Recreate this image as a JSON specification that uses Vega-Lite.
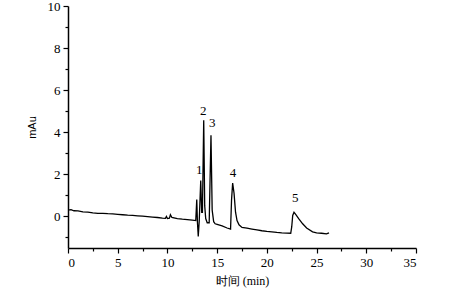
{
  "$schema": "https://vega.github.io/schema/vega-lite/v6.json",
  "width": 348,
  "height": 242,
  "autosize": "none",
  "padding": {"left": 68, "top": 6, "right": 47, "bottom": 47},
  "background": "white",
  "config": {
    "view": {"stroke": null},
    "axis": {"grid": false, "domainColor": "black", "domainWidth": 1.5, "tickColor": "black", "tickWidth": 1.2, "labelColor": "black", "titleColor": "black", "labelFont": "Liberation Serif", "labelFontSize": 13, "titleFontWeight": "normal"}
  },
  "datasets": {
    "trace": [
      {"t": 0, "v": 0.3}, {"t": 0.3, "v": 0.32}, {"t": 0.6, "v": 0.27}, {"t": 1, "v": 0.26},
      {"t": 1.5, "v": 0.22}, {"t": 2, "v": 0.2}, {"t": 2.5, "v": 0.17}, {"t": 3, "v": 0.15},
      {"t": 3.5, "v": 0.15}, {"t": 4, "v": 0.13}, {"t": 4.5, "v": 0.12}, {"t": 5, "v": 0.1},
      {"t": 5.5, "v": 0.08}, {"t": 6, "v": 0.06}, {"t": 6.5, "v": 0.05}, {"t": 7, "v": 0.03},
      {"t": 7.5, "v": 0.01}, {"t": 8, "v": -0.01}, {"t": 8.5, "v": -0.03}, {"t": 9, "v": -0.05},
      {"t": 9.5, "v": -0.08}, {"t": 9.8, "v": -0.09}, {"t": 9.9, "v": 0.0}, {"t": 10.0, "v": -0.1},
      {"t": 10.2, "v": -0.08}, {"t": 10.3, "v": 0.08}, {"t": 10.45, "v": -0.05}, {"t": 11, "v": -0.1},
      {"t": 11.5, "v": -0.13}, {"t": 12, "v": -0.15}, {"t": 12.5, "v": -0.18}, {"t": 12.85, "v": -0.2},
      {"t": 12.95, "v": 0.8}, {"t": 13.02, "v": -0.3}, {"t": 13.1, "v": -0.95}, {"t": 13.2, "v": -0.2},
      {"t": 13.35, "v": 1.71}, {"t": 13.45, "v": 0.2}, {"t": 13.52, "v": 0.2}, {"t": 13.65, "v": 4.57},
      {"t": 13.75, "v": 0.5}, {"t": 13.85, "v": -0.1}, {"t": 14.0, "v": -0.3}, {"t": 14.2, "v": -0.3},
      {"t": 14.38, "v": 3.86}, {"t": 14.5, "v": 0.3}, {"t": 14.65, "v": -0.25}, {"t": 14.8, "v": -0.35},
      {"t": 15, "v": -0.38}, {"t": 15.5, "v": -0.45}, {"t": 16, "v": -0.55}, {"t": 16.35, "v": -0.6},
      {"t": 16.45, "v": 0.8}, {"t": 16.56, "v": 1.59}, {"t": 16.7, "v": 1.1}, {"t": 16.85, "v": 0.2},
      {"t": 17.0, "v": -0.2}, {"t": 17.2, "v": -0.4}, {"t": 17.5, "v": -0.52}, {"t": 18, "v": -0.56},
      {"t": 18.5, "v": -0.6}, {"t": 19, "v": -0.64}, {"t": 19.5, "v": -0.68}, {"t": 20, "v": -0.71},
      {"t": 20.5, "v": -0.73}, {"t": 21, "v": -0.76}, {"t": 21.5, "v": -0.78}, {"t": 22, "v": -0.79},
      {"t": 22.4, "v": -0.8}, {"t": 22.5, "v": -0.5}, {"t": 22.6, "v": 0.05}, {"t": 22.73, "v": 0.2},
      {"t": 22.9, "v": 0.1}, {"t": 23.2, "v": -0.1}, {"t": 23.6, "v": -0.35}, {"t": 24, "v": -0.55},
      {"t": 24.6, "v": -0.73}, {"t": 25, "v": -0.78}, {"t": 25.5, "v": -0.8}, {"t": 26, "v": -0.83},
      {"t": 26.25, "v": -0.78}
    ],
    "labels": [
      {"t": 13.2, "v": 2.2, "label": "1"},
      {"t": 13.6, "v": 5.0, "label": "2"},
      {"t": 14.5, "v": 4.43, "label": "3"},
      {"t": 16.6, "v": 2.05, "label": "4"},
      {"t": 22.85, "v": 0.86, "label": "5"}
    ]
  },
  "resolve": {"axis": {"x": "independent", "y": "independent"}},
  "layer": [
    {
      "data": {"name": "trace"},
      "mark": {"type": "line", "color": "black", "strokeWidth": 1.3, "clip": true},
      "encoding": {
        "x": {"field": "t", "type": "quantitative", "scale": {"domain": [0, 35], "nice": false, "zero": false},
          "axis": {"orient": "bottom", "values": [0, 5, 10, 15, 20, 25, 30, 35], "tickSize": 5, "labelPadding": 3, "title": "时间 (min)", "titleFont": "Liberation Serif", "titleFontSize": 12, "titlePadding": 6}},
        "y": {"field": "v", "type": "quantitative", "scale": {"domain": [-1.5, 10], "nice": false, "zero": false},
          "axis": {"orient": "left", "values": [0, 2, 4, 6, 8, 10], "tickSize": 5, "labelPadding": 3, "title": "mAu", "titleFont": "Liberation Sans", "titleFontSize": 11, "titlePadding": 10}}
      }
    },
    {
      "data": {"name": "labels"},
      "mark": {"type": "text", "font": "Liberation Serif", "fontSize": 13, "color": "black", "baseline": "middle"},
      "encoding": {
        "x": {"field": "t", "type": "quantitative",
          "axis": {"orient": "bottom", "values": [2.5, 7.5, 12.5, 17.5, 22.5, 27.5, 32.5], "labels": false, "domain": false, "tickSize": 3, "title": null}},
        "y": {"field": "v", "type": "quantitative",
          "axis": {"orient": "left", "values": [-1, 1, 3, 5, 7, 9], "labels": false, "domain": false, "tickSize": 3, "title": null}},
        "text": {"field": "label"}
      }
    }
  ]
}
